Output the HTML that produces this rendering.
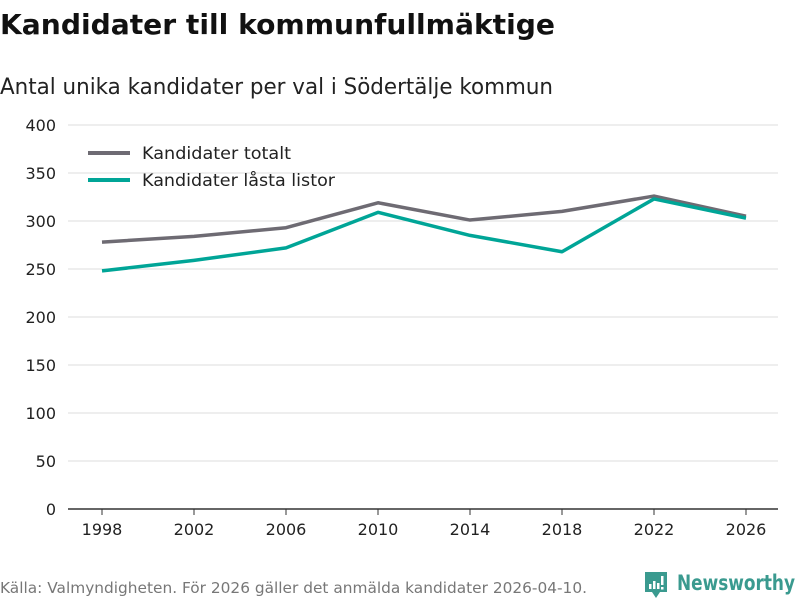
<!DOCTYPE html>
<html><head><meta charset="utf-8"><style>
body{margin:0;width:800px;height:600px;background:#fff;font-family:"DejaVu Sans","Liberation Sans",sans-serif;overflow:hidden}
</style></head><body>
<svg width="800" height="600">
<text x="0" y="34" font-size="28" font-weight="bold" fill="#111" textLength="555" lengthAdjust="spacingAndGlyphs">Kandidater till kommunfullmäktige</text>
<text x="0" y="94" font-size="22" fill="#222" textLength="553" lengthAdjust="spacingAndGlyphs">Antal unika kandidater per val i Södertälje kommun</text>
<g id="grid"></g>
<g id="yticks"></g>
<g id="xticks"></g>
<g id="lines"></g>
<g>
<g><line x1="88" y1="153" x2="130" y2="153" stroke="#6e6b73" stroke-width="4"/><text x="142" y="159" font-size="17" fill="#222" textLength="149" lengthAdjust="spacingAndGlyphs">Kandidater totalt</text></g>
<g><line x1="88" y1="180" x2="130" y2="180" stroke="#00a597" stroke-width="4"/><text x="142" y="186" font-size="17" fill="#222" textLength="193" lengthAdjust="spacingAndGlyphs">Kandidater låsta listor</text></g>
</g>
<text x="0" y="593" font-size="15" fill="#777" textLength="587" lengthAdjust="spacingAndGlyphs">Källa: Valmyndigheten. För 2026 gäller det anmälda kandidater 2026-04-10.</text>
<g>
<path d="M645 572 h22 v20 h-7 l-4 6 l-4 -6 h-7z" fill="#3a9a8f"/>
<rect x="649" y="584" width="2.5" height="5" fill="#fff"/><rect x="653" y="581" width="2.5" height="8" fill="#fff"/><rect x="657" y="583" width="2.5" height="6" fill="#fff"/><rect x="661" y="576" width="2.5" height="9" fill="#fff"/><rect x="661" y="587" width="2.5" height="2.5" fill="#fff"/>
<text x="677" y="590" font-size="21" font-weight="bold" fill="#3a9a8f" textLength="118" lengthAdjust="spacingAndGlyphs">Newsworthy</text>
</g>
</svg>
<script>
const years=[1998,2002,2006,2010,2014,2018,2022,2026];
const totalt=[278,284,293,319,301,310,326,305];
const lasta=[248,259,272,309,285,268,323,303];
const yTicks=[0,50,100,150,200,250,300,350,400];
const NS="http://www.w3.org/2000/svg";
const x=v=>102+(v-1998)*23;
const y=v=>509-v*0.96;
function mk(t,a,p){const e=document.createElementNS(NS,t);for(const k in a)e.setAttribute(k,a[k]);p.appendChild(e);return e;}
const grid=document.getElementById('grid'),yt=document.getElementById('yticks'),xt=document.getElementById('xticks'),ln=document.getElementById('lines');
yTicks.forEach(v=>{
 const l=mk('line',{x1:68,x2:778,y1:y(v),y2:y(v),stroke:v===0?'#333':'#ddd','stroke-width':v===0?1.5:1},grid);
 
 
 const t=mk('text',{x:56,y:y(v)+6,'font-size':16,fill:'#222','text-anchor':'end'},yt);
 t.textContent=v;
 
 
});
years.forEach(v=>{
 const l=mk('line',{x1:x(v),x2:x(v),y1:509,y2:515,stroke:'#333'},xt);
 
 
 const t=mk('text',{x:x(v),y:535,'font-size':16,fill:'#222','text-anchor':'middle'},xt);
 t.textContent=v;
 
 
});
[[totalt,'#6e6b73','line-totalt'],[lasta,'#00a597','line-lasta']].forEach(([d,c,n])=>{
 const p=mk('polyline',{points:d.map((v,i)=>x(years[i])+','+y(v)).join(' '),fill:'none',stroke:c,'stroke-width':3.5,'stroke-linejoin':'round'},ln);
 
 
});
</script>
</body></html>
